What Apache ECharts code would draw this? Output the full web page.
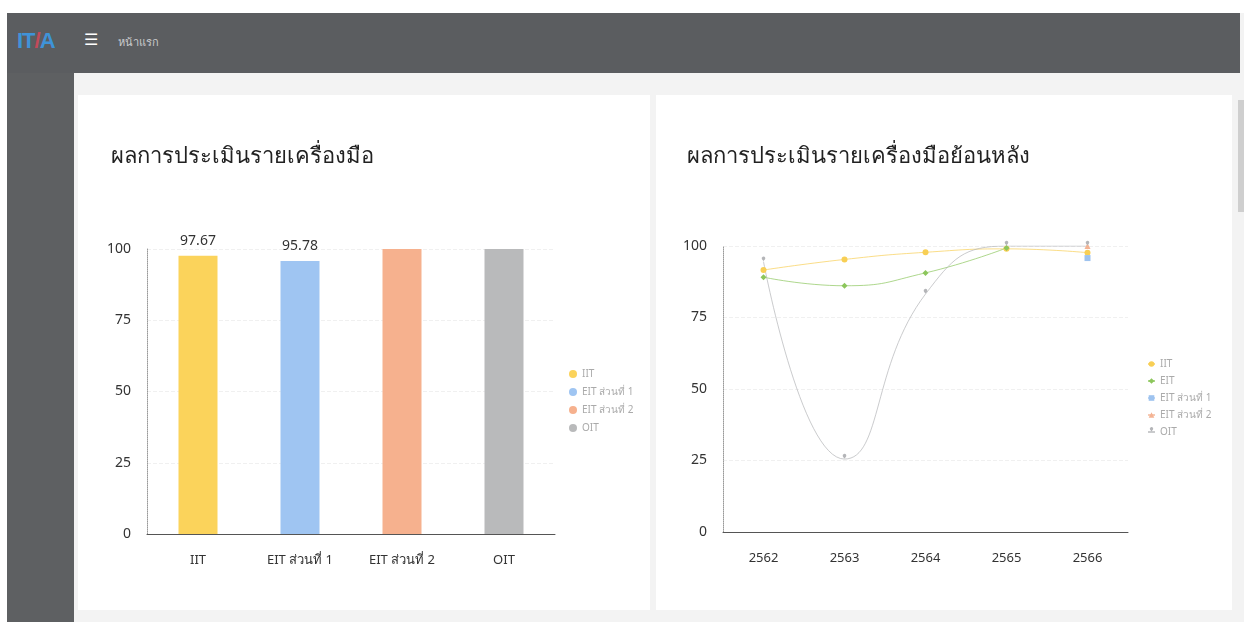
<!DOCTYPE html>
<html>
<head>
<meta charset="utf-8">
<script src="https://cdn.jsdelivr.net/npm/echarts@6/dist/echarts.min.js"></script>
<style>
  html, body { margin:0; padding:0; width:1244px; height:622px; overflow:hidden; background:#fff; font-family:"Noto Sans","DejaVu Sans",sans-serif; }
  #page { position:absolute; left:7px; top:13px; width:1237px; height:609px; background:#f3f3f3; }
  #header { position:absolute; left:7px; top:13px; width:1233px; height:60px; background:#5b5d60; }
  #sidebar { position:absolute; left:7px; top:73px; width:67px; height:549px; background:#5e6062; }
  .card { position:absolute; top:95px; height:515px; background:#fff; }
  #logo { position:absolute; left:17px; top:28px; font:bold 22px "Liberation Sans",sans-serif; color:#3f93d8; letter-spacing:-1px; }
  #logo span { color:#c24a5a; }
  #burger { position:absolute; left:84px; top:30px; color:#fff; font:bold 16px "DejaVu Sans",sans-serif; }
  #home { position:absolute; left:118px; top:33px; color:#c9cbcd; font:11px "Noto Sans",sans-serif; }
  #scroll { position:absolute; left:1238px; top:100px; width:6px; height:112px; background:#cfcfcf; }
</style>
</head>
<body>
<div id="page"></div>
<div id="header"></div>
<div id="sidebar"></div>
<div id="logo">IT<span>/</span>A</div>
<div id="burger">&#9776;</div>
<div id="home">หน้าแรก</div>
<div id="scroll"></div>
<div class="card" id="c1" style="left:78px;width:572px;"></div>
<div class="card" id="c2" style="left:656px;width:576px;"></div>
<script>
// ---- data ----
var barTitle = 'ผลการประเมินรายเครื่องมือ';
var barCategories = ['IIT', 'EIT ส่วนที่ 1', 'EIT ส่วนที่ 2', 'OIT'];
var barValues = [97.67, 95.78, 100, 100];
var barLabelShown = [true, true, false, false];

var lineTitle = 'ผลการประเมินรายเครื่องมือย้อนหลัง';
var years = ['2562', '2563', '2564', '2565', '2566'];
var lineNames = ['IIT', 'EIT', 'EIT ส่วนที่ 1', 'EIT ส่วนที่ 2', 'OIT'];
var iitValues  = [91.6, 95.3, 97.8, 99.0, 97.67];
var eitValues  = [89.1, 86.1, 90.6, 99.3, null];
var eit1Values = [null, null, null, null, 95.78];
var eit2Values = [null, null, null, null, 100];
var oitValues  = [94.5, 25.5, 83.2, 100, 100];
var yTicks = [0, 25, 50, 75, 100];

// ---- styles ----
var barColors = ['#fbd35b', '#9fc5f2', '#f6b18e', '#b9babb'];
var lineColors = ['#f8cf55', '#8cc65c', '#9ec3ef', '#f4b393', '#b4b5b8'];
var lineSymbols = ['circle', 'diamond', 'rect', 'triangle', 'pin'];
var fontFam = '"Noto Sans", "DejaVu Sans", sans-serif';

function yAxisCfg() {
  return {
    type: 'value', min: 0, max: 100, interval: 25,
    axisLine: { show: true, lineStyle: { color: '#999', type: 'dotted', width: 1 } },
    axisTick: { show: false },
    splitLine: { show: true, lineStyle: { color: '#f0f0f0', type: 'dashed' } },
    axisLabel: { color: '#333', fontSize: 14, fontFamily: fontFam, margin: 16,
      formatter: function (v) { return yTicks.indexOf(v) >= 0 ? String(v) : ''; } }
  };
}

// ---- bar chart ----
var c1 = echarts.init(document.getElementById('c1'));
var barSeries = barCategories.map(function (name, i) {
  return {
    name: name, type: 'bar', stack: 'total', barWidth: 39,
    itemStyle: { color: barColors[i] },
    label: { show: barLabelShown[i], position: 'top', distance: 8, color: '#333', fontSize: 14, fontFamily: fontFam },
    data: barCategories.map(function (c, j) { return j === i ? barValues[i] : null; })
  };
});
c1.setOption({
  animation: false,
  title: { text: barTitle, left: 28, top: 46, textStyle: { fontSize: 22, fontWeight: 'normal', color: '#222', fontFamily: fontFam } },
  legend: {
    orient: 'vertical', left: 486, top: 269, itemWidth: 8, itemHeight: 8, itemGap: 8, icon: 'circle',
    data: barCategories,
    textStyle: { color: '#aaa', fontSize: 10, fontFamily: fontFam }
  },
  grid: { left: 69, top: 154, width: 408, height: 285 },
  xAxis: {
    type: 'category', data: barCategories,
    axisLine: { lineStyle: { color: '#555', width: 1 } },
    axisTick: { show: false },
    axisLabel: { color: '#333', fontSize: 13, fontFamily: fontFam, margin: 20 }
  },
  yAxis: yAxisCfg(),
  series: barSeries
});

// ---- line chart ----
var c2 = echarts.init(document.getElementById('c2'));
var lineData = [iitValues, eitValues, eit1Values, eit2Values, oitValues];
var lineSeries = lineNames.map(function (name, i) {
  return {
    name: name, type: 'line', smooth: true, connectNulls: false,
    symbol: lineSymbols[i], symbolSize: 6, showSymbol: true,
    itemStyle: { color: lineColors[i] },
    lineStyle: { width: 1, color: lineColors[i], opacity: 0.7 },
    data: lineData[i]
  };
});
c2.setOption({
  animation: false,
  title: { text: lineTitle, left: 26, top: 46, textStyle: { fontSize: 22, fontWeight: 'normal', color: '#222', fontFamily: fontFam } },
  legend: {
    orient: 'vertical', left: 486, top: 259, itemWidth: 7, itemHeight: 7, itemGap: 7,
    data: lineNames,
    textStyle: { color: '#aaa', fontSize: 10, fontFamily: fontFam }
  },
  grid: { left: 67, top: 151, width: 405, height: 286 },
  xAxis: {
    type: 'category', data: years, boundaryGap: true,
    axisLine: { lineStyle: { color: '#555', width: 1 } },
    axisTick: { show: false },
    axisLabel: { color: '#333', fontSize: 13, fontFamily: fontFam, margin: 20 }
  },
  yAxis: yAxisCfg(),
  series: lineSeries
});
</script>
</body>
</html>
